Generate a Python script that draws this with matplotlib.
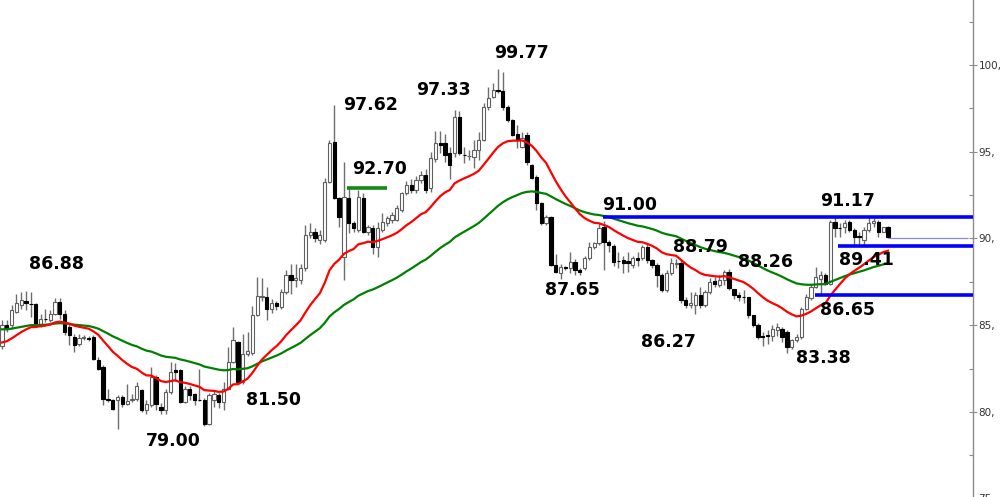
import matplotlib
matplotlib.use("Agg")
import matplotlib.pyplot as plt
import numpy as np
from matplotlib.ticker import MultipleLocator, FuncFormatter
import matplotlib.transforms as mtransforms

# ---------------- data (OHLC per candle) ----------------
opens = [83.8, 85.0, 85.0, 85.77, 86.15, 86.4, 86.22, 86.2, 85.0, 85.35,
         85.28, 85.67, 86.34, 85.67, 84.9, 84.32, 83.9, 84.28, 84.25, 84.32,
         82.98, 82.6, 80.77, 80.67, 80.67, 80.86, 80.48, 80.67, 80.77, 81.25,
         80.1, 80.4, 82.0, 80.29, 80.1, 81.15, 82.4, 82.4, 80.58, 81.34,
         81.05, 80.7, 80.67, 79.32, 80.67, 80.96, 80.58, 81.34, 82.9, 84.04,
         81.73, 83.36, 83.4, 85.57, 86.6, 86.6, 85.96, 86.3, 86.06, 86.92,
         87.88, 87.6, 87.6, 88.27, 90.19, 90.38, 89.9, 89.9, 93.27, 95.58,
         92.31, 88.94, 92.31, 90.87, 90.48, 92.31, 90.38, 90.58, 89.52, 90.48,
         90.87, 91.06, 91.06, 91.63, 92.6, 93.08, 92.79, 93.37, 93.65, 92.88,
         94.6, 95.48, 95.48, 94.9, 94.9, 97.02, 94.81, 94.75, 94.71, 95.1,
         95.67, 97.6, 98.17, 98.54, 98.52, 97.6, 96.83, 96.02, 95.29, 95.96,
         94.23, 93.56, 92.02, 90.87, 91.25, 88.46, 88.0, 88.37, 88.29, 88.65,
         88.17, 88.27, 88.85, 89.52, 89.71, 90.67, 89.8, 89.56, 88.7, 88.75,
         88.7, 88.46, 88.85, 88.85, 89.52, 88.75, 88.46, 87.88, 87.02, 87.98,
         88.5, 88.6, 86.44, 86.15, 86.15, 86.73, 86.15, 86.92, 87.56, 87.31,
         87.6, 88.08, 87.06, 86.73, 86.65, 86.63, 85.57, 85.0, 84.4, 84.42,
         84.4, 84.7, 84.8, 84.6, 83.75, 84.13, 84.33, 85.96, 86.54, 87.21,
         87.69, 87.88, 87.4, 90.96, 90.6, 90.67, 90.96, 90.48, 90.12, 89.9,
         90.48, 90.87, 90.96, 90.38, 90.67]
highs = [85.3, 85.3, 86.15, 86.8, 86.92, 86.97, 86.92, 86.25, 85.67, 85.96,
         85.86, 86.54, 86.54, 85.86, 85.09, 84.5, 84.5, 84.42, 84.35, 84.42,
         83.17, 82.69, 81.34, 80.77, 80.96, 80.96, 81.63, 81.05, 81.7, 81.3,
         80.67, 82.6, 82.1, 80.5, 81.3, 82.9, 82.8, 82.45, 81.5, 81.5,
         81.1, 82.5, 80.8, 81.1, 81.2, 81.1, 81.7, 83.75, 84.9, 84.1,
         84.5, 84.6, 86.1, 87.8, 87.7, 87.2, 86.5, 86.4, 87.1, 88.17,
         88.5, 88.5, 88.5, 90.77, 90.87, 90.6, 90.5, 93.46, 95.67, 97.69,
         92.4, 94.4, 92.9, 91.0, 92.8, 92.6, 90.8, 90.8, 90.96, 91.44,
         91.3, 91.5, 91.9, 92.7, 93.3, 93.4, 93.6, 93.9, 94.0, 95.0,
         96.2, 96.2, 96.0, 95.3, 97.4, 97.33, 95.3, 95.1, 95.67, 96.15,
         97.8, 98.75, 98.94, 99.77, 99.6, 97.7, 96.9, 96.54, 96.15, 96.15,
         94.3, 93.65, 92.1, 91.35, 91.3, 89.1, 88.5, 88.4, 89.2, 88.8,
         88.3, 89.0, 89.8, 89.8, 90.87, 91.0, 89.9, 89.7, 89.2, 89.0,
         89.23, 89.0, 89.2, 89.62, 89.7, 88.8, 88.6, 87.98, 88.17, 88.85,
         88.79, 88.8, 86.6, 86.9, 86.9, 87.2, 87.0, 87.7, 87.8, 87.9,
         88.17, 88.26, 87.1, 86.9, 87.0, 86.65, 85.6, 85.1, 84.6, 84.7,
         85.0, 85.1, 84.9, 84.7, 84.2, 84.5, 86.06, 86.82, 87.4, 88.36,
         88.1, 87.98, 91.06, 91.25, 90.87, 91.06, 91.06, 90.58, 90.4, 90.67,
         91.25, 91.17, 91.06, 90.67, 90.7]
lows = [83.6, 84.6, 84.8, 85.7, 85.96, 85.86, 85.48, 84.9, 84.9, 85.2,
        85.19, 85.57, 85.38, 84.42, 83.84, 83.46, 83.8, 84.13, 84.1, 82.98,
        82.4, 80.38, 80.57, 80.1, 79.04, 80.28, 80.4, 80.57, 80.6, 80.0,
        79.9, 80.3, 80.1, 79.9, 79.9, 81.05, 81.8, 80.5, 80.5, 80.7,
        80.4, 80.6, 79.2, 79.25, 80.3, 80.2, 80.1, 81.25, 82.8, 81.6,
        81.6, 83.2, 83.3, 85.5, 86.4, 85.3, 85.7, 85.9, 85.96, 86.82,
        86.8, 87.2, 87.4, 88.1, 90.0, 89.8, 89.7, 89.8, 93.2, 92.3,
        90.67, 87.6, 90.3, 90.4, 90.38, 90.29, 90.2, 89.13, 88.94, 90.38,
        90.7, 90.9, 91.0, 91.5, 92.5, 92.6, 92.6, 93.2, 92.6, 92.7,
        94.4, 94.9, 94.4, 93.45, 94.7, 94.8, 94.33, 94.5, 94.04, 94.5,
        95.6, 97.4, 98.1, 98.4, 97.4, 96.7, 95.9, 95.2, 95.2, 94.23,
        93.4, 91.64, 90.8, 90.77, 88.4, 88.0, 87.65, 88.2, 88.0, 87.9,
        87.9, 88.2, 88.75, 89.4, 89.6, 88.2, 89.2, 88.4, 88.3, 88.0,
        88.07, 88.3, 88.4, 88.75, 88.6, 88.3, 87.2, 86.9, 86.92, 87.88,
        88.3, 86.3, 86.0, 86.0, 85.65, 86.0, 86.06, 86.8, 87.2, 87.2,
        87.3, 87.0, 86.5, 86.4, 86.3, 85.4, 84.9, 84.2, 83.8, 83.9,
        84.1, 84.4, 84.0, 83.38, 83.6, 84.0, 84.2, 85.86, 86.44, 87.12,
        86.8, 87.3, 87.3, 90.1, 90.1, 90.29, 90.38, 89.6, 89.6, 89.6,
        90.38, 90.67, 90.1, 90.38, 90.0]
closes = [85.0, 84.8, 85.86, 86.25, 86.44, 86.25, 86.2, 85.0, 85.38, 85.33,
          85.67, 86.34, 85.67, 84.61, 84.42, 83.84, 84.28, 84.3, 84.23, 83.07,
          82.5, 80.77, 80.67, 80.19, 80.86, 80.48, 80.6, 80.77, 81.5, 80.1,
          80.44, 82.0, 80.48, 80.1, 81.15, 82.3, 82.3, 80.58, 81.34, 80.96,
          80.67, 80.67, 79.32, 80.96, 81.05, 80.58, 81.34, 82.9, 84.13, 81.73,
          83.36, 83.5, 85.57, 86.7, 86.7, 85.96, 86.25, 86.1, 86.92, 87.88,
          87.6, 87.7, 88.27, 90.2, 90.38, 90.0, 90.2, 93.27, 95.48, 92.31,
          91.25, 92.4, 90.87, 90.58, 92.4, 90.38, 90.67, 89.52, 90.58, 90.96,
          91.15, 91.34, 91.73, 92.6, 93.08, 92.79, 93.37, 93.65, 92.79, 94.66,
          95.48, 95.4, 94.81, 94.23, 97.02, 94.9, 94.8, 94.77, 95.1, 95.67,
          97.6, 98.08, 98.56, 98.5, 97.6, 96.83, 95.96, 95.67, 95.77, 94.42,
          93.46, 92.02, 90.87, 91.25, 88.46, 88.08, 88.37, 88.29, 88.65, 88.17,
          88.08, 88.85, 89.52, 89.71, 90.58, 89.8, 89.6, 88.65, 88.68, 88.6,
          88.56, 88.85, 88.75, 89.52, 88.75, 88.46, 87.88, 87.02, 87.98, 88.56,
          88.6, 86.44, 86.15, 86.25, 86.73, 86.15, 86.92, 87.5, 87.4, 87.6,
          88.08, 87.12, 86.73, 86.6, 86.6, 85.58, 85.0, 84.3, 84.3, 84.4,
          84.8, 84.9, 84.33, 83.75, 84.13, 84.33, 85.96, 86.63, 87.21, 87.79,
          87.88, 87.4, 90.96, 90.58, 90.58, 90.87, 90.48, 90.1, 90.1, 90.48,
          90.87, 91.0, 90.38, 90.67, 90.09]

# moving averages (EMA) settings and their values just before the first candle
ema_fast_period = 21
ema_slow_period = 55
ema_fast_prev = 83.9
ema_slow_prev = 84.75

# horizontal levels
blue_levels = [91.23, 89.56, 86.73]
blue_start_idx = [124.8, 173.6, 168.8]
green_level = 92.9
green_span = (71.6, 80.0)
last_price = 90.02

# annotations: text, candle index, price
labels = ["86.88", "79.00", "81.50", "97.62", "92.70", "97.33", "99.77", "91.00",
          "87.65", "88.79", "86.27", "88.26", "91.17", "89.41", "86.65", "83.38"]
label_x = [11.4, 35.5, 56.3, 76.6, 78.5, 91.6, 107.8, 130.4,
           118.4, 145.0, 138.5, 158.5, 175.5, 179.6, 175.5, 170.5]
label_y = [88.55, 78.30, 80.67, 97.69, 94.0, 98.56, 100.69, 91.92,
           87.02, 89.50, 84.02, 88.63, 92.15, 88.75, 85.86, 83.09]


def ema(values, period, prev):
    a = 2.0 / (period + 1)
    out = []
    e = prev
    for v in values:
        e = e + a * (v - e)
        out.append(e)
    return np.array(out)


o = np.array(opens); h = np.array(highs); l = np.array(lows); c = np.array(closes)
n = len(c)
x = np.arange(n)

fig = plt.figure(figsize=(10, 4.97), dpi=100)
ax = fig.add_axes([0, 0, 0.973, 1])

# wicks
ax.vlines(x, l, h, color="#6e6e6e", lw=1.0, zorder=2)
up = c >= o
bottom = np.minimum(o, c)
height = np.maximum(np.abs(c - o), 0.03)
ax.bar(x[up], height[up], bottom=bottom[up], width=0.68, facecolor="white",
       edgecolor="#606060", lw=0.8, zorder=3)
ax.bar(x[~up], height[~up], bottom=bottom[~up], width=0.68, facecolor="black",
       edgecolor="black", lw=0.8, zorder=3)

ax.plot(x, ema(c, ema_slow_period, ema_slow_prev), color="#008000", lw=1.6, zorder=4)
ax.plot(x, ema(c, ema_fast_period, ema_fast_prev), color="#ff0000", lw=1.6, zorder=4)

xmax = n - 1 + 17.65
for lev, st in zip(blue_levels, blue_start_idx):
    ax.hlines(lev, st, xmax, color="#0000ff", lw=2.6, zorder=5)
ax.hlines(green_level, green_span[0], green_span[1], color="#138a13", lw=2.6, zorder=5)
ax.hlines(last_price, n - 1, xmax - 1.0, color="#8a8ac8", lw=0.9, zorder=5)

for t, lx, ly in zip(labels, label_x, label_y):
    ax.text(lx, ly, t, ha="center", va="center", fontsize=12.5, fontweight="bold",
            color="black", family="DejaVu Sans", zorder=6)

ax.set_xlim(-0.415, xmax)
ax.set_ylim(75.09, 103.75)

for s in ["top", "left", "bottom"]:
    ax.spines[s].set_visible(False)
ax.spines["right"].set_color("#8c8c8c")
ax.spines["right"].set_linewidth(1.0)
ax.set_xticks([])
ax.yaxis.tick_right()
ax.yaxis.set_major_locator(MultipleLocator(5))
ax.yaxis.set_minor_locator(MultipleLocator(2.5))
ax.yaxis.set_major_formatter(FuncFormatter(lambda v, p: f"{int(round(v))},"))
ax.tick_params(axis="y", which="major", direction="inout", length=6, width=0.8,
               color="#8c8c8c", labelsize=7.5, labelcolor="#333333", pad=1)
ax.tick_params(axis="y", which="minor", direction="in", length=3, width=0.8,
               color="#8c8c8c")
# the 75 tick sits on the bottom edge and is shown cut off, as in the reference
trans = mtransforms.blended_transform_factory(ax.transAxes, ax.transData)
ax.plot([1.0, 1.0], [75.0, 75.0], transform=trans, marker="_", ms=6, color="#8c8c8c",
        clip_on=False)
ax.text(1.0, 75.0, "75,", transform=trans + mtransforms.ScaledTranslation(4 / 72, 0, fig.dpi_scale_trans),
        fontsize=7.5, color="#333333", va="center", ha="left", clip_on=False)

fig.savefig("out.png", dpi=100)
